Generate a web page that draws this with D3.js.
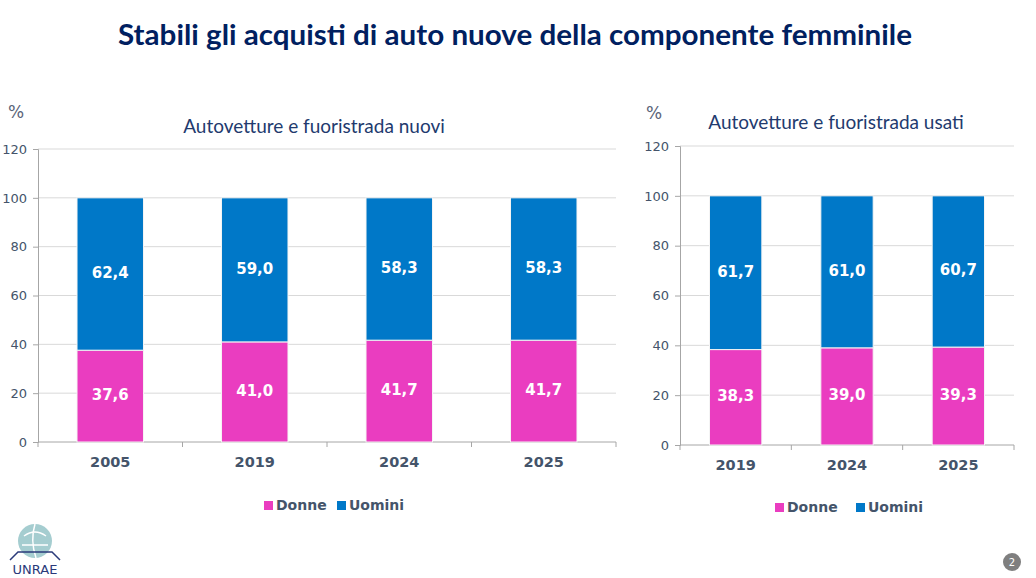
<!DOCTYPE html>
<html>
<head>
<meta charset="utf-8">
<script src="https://cdn.jsdelivr.net/npm/d3@7"></script>
<style>
  body { margin: 0; background: #fff; }
  svg { display: block; }
  .tick text { font-family: "DejaVu Sans", Verdana, sans-serif; }
</style>
</head>
<body>
<svg id="chart" width="1036" height="578"></svg>
<script>
// data
const seriesNames = ["Donne", "Uomini"];
const colors = ["#ea3dc0", "#0078c8"];

const nuoviYears = ["2005", "2019", "2024", "2025"];
const nuoviDonne = [37.6, 41.0, 41.7, 41.7];
const nuoviUomini = [62.4, 59.0, 58.3, 58.3];

const usatiYears = ["2019", "2024", "2025"];
const usatiDonne = [38.3, 39.0, 39.3];
const usatiUomini = [61.7, 61.0, 60.7];

const yTicks = [0, 20, 40, 60, 80, 100, 120];

const svg = d3.select("#chart");
const fmt = v => v.toFixed(1).replace(".", ",");

// main title
svg.append("text")
   .attr("x", 515).attr("y", 45)
   .attr("text-anchor", "middle")
   .attr("textLength", 794)
   .attr("lengthAdjust", "spacingAndGlyphs")
   .style("font-family", "Lato, sans-serif")
   .style("font-weight", "bold")
   .style("font-size", "29px")
   .style("fill", "#002060")
   .text("Stabili gli acquisti di auto nuove della componente femminile");

/**
 * draws one stacked bar chart
 */
function drawChart(cfg) {
    let g = svg.append("g");

    let x = d3.scaleBand()
              .domain(cfg.years)
              .range([cfg.x0, cfg.x1])
              .paddingInner(cfg.pad)
              .paddingOuter(cfg.pad / 2);
    let y = d3.scaleLinear()
              .domain([0, 120])
              .range([cfg.y0, cfg.y1]);

    // gridlines
    g.selectAll("line.grid")
     .data(yTicks.slice(1))
     .enter().append("line")
     .attr("x1", cfg.x0).attr("x2", cfg.x1)
     .attr("y1", d => y(d)).attr("y2", d => y(d))
     .style("stroke", "#d9d9d9").style("stroke-width", 1);

    // y axis
    let yAxis = g.append("g")
                 .attr("transform", "translate(" + cfg.x0 + ",0)")
                 .call(d3.axisLeft(y).tickValues(yTicks).tickSize(5).tickPadding(6));
    yAxis.select(".domain").style("stroke", "#a6a6a6");
    yAxis.selectAll(".tick line").style("stroke", "#a6a6a6");
    yAxis.selectAll(".tick text")
         .style("font-size", "13px").style("fill", "#44546a");

    // x axis
    let tickPos = cfg.years.map(d => x(d) - x.step() * x.paddingInner() / 2);
    tickPos.push(cfg.x1);
    g.append("line")
     .attr("x1", cfg.x0).attr("x2", cfg.x1)
     .attr("y1", cfg.y0).attr("y2", cfg.y0)
     .style("stroke", "#a6a6a6");
    g.selectAll("line.xt")
     .data(tickPos)
     .enter().append("line")
     .attr("x1", d => d).attr("x2", d => d)
     .attr("y1", cfg.y0).attr("y2", cfg.y0 + 5)
     .style("stroke", "#a6a6a6");
    g.selectAll("text.year")
     .data(cfg.years)
     .enter().append("text")
     .attr("x", d => x(d) + x.bandwidth() / 2)
     .attr("y", cfg.y0 + 25)
     .attr("text-anchor", "middle")
     .style("font-family", "DejaVu Sans, Verdana, sans-serif")
     .style("font-weight", "bold")
     .style("font-size", "14.5px")
     .style("fill", "#44546a")
     .text(d => d);

    // stacked bars
    let rows = cfg.years.map((yr, i) => ({year: yr, Donne: cfg.donne[i], Uomini: cfg.uomini[i]}));
    let stack = d3.stack().keys(seriesNames)(rows);

    stack.forEach((layer, li) => {
        g.selectAll("rect.s" + li)
         .data(layer)
         .enter().append("rect")
         .attr("x", d => x(d.data.year))
         .attr("width", x.bandwidth())
         .attr("y", d => y(d[1]))
         .attr("height", d => y(d[0]) - y(d[1]))
         .style("fill", colors[li])
         .style("stroke", "#f4f4f4")
         .style("stroke-width", 1);

        g.selectAll("text.v" + li)
         .data(layer)
         .enter().append("text")
         .attr("x", d => x(d.data.year) + x.bandwidth() / 2)
         .attr("y", d => (y(d[0]) + y(d[1])) / 2 + 4)
         .attr("text-anchor", "middle")
         .style("font-family", "DejaVu Sans, Verdana, sans-serif")
         .style("font-weight", "bold")
         .style("font-size", "15px")
         .style("fill", "#fff")
         .text(d => fmt(d[1] - d[0]));
    });

    // % label and subtitle
    g.append("text")
     .attr("x", cfg.pctX).attr("y", cfg.pctY)
     .style("font-family", "DejaVu Sans, sans-serif")
     .style("font-size", "17px")
     .style("fill", "#5a6478")
     .text("%");
    g.append("text")
     .attr("x", cfg.subX).attr("y", cfg.subY)
     .attr("text-anchor", "middle")
     .style("font-family", "Lato, sans-serif")
     .style("font-size", "19px")
     .style("fill", "#223a6e")
     .text(cfg.subtitle);

    // legend
    let lg = g.append("g").attr("transform", "translate(" + cfg.legX + "," + cfg.legY + ")");
    seriesNames.forEach((name, i) => {
        let ox = cfg.legOff[i];
        lg.append("rect")
          .attr("x", ox).attr("y", -9)
          .attr("width", 9).attr("height", 9)
          .style("fill", colors[i]);
        lg.append("text")
          .attr("x", ox + 12).attr("y", 0)
          .style("font-family", "DejaVu Sans, Verdana, sans-serif")
          .style("font-weight", "bold")
          .style("font-size", "14px")
          .style("fill", "#44546a")
          .text(name);
    });
}

drawChart({
    years: nuoviYears, donne: nuoviDonne, uomini: nuoviUomini,
    x0: 38, x1: 616, y0: 442, y1: 149, pad: 0.54,
    pctX: 8, pctY: 118, subX: 314, subY: 133,
    subtitle: "Autovetture e fuoristrada nuovi",
    legX: 264, legY: 510, legOff: [0, 73]
});

drawChart({
    years: usatiYears, donne: usatiDonne, uomini: usatiUomini,
    x0: 680, x1: 1014, y0: 445, y1: 146, pad: 0.53,
    pctX: 646, pctY: 119, subX: 836, subY: 129,
    subtitle: "Autovetture e fuoristrada usati",
    legX: 775, legY: 512, legOff: [0, 81]
});

// UNRAE logo (simple)
let logo = svg.append("g");
logo.append("circle").attr("cx", 35).attr("cy", 541).attr("r", 17)
    .style("fill", "#8fc0c4").style("opacity", 0.8);
logo.append("path").attr("d", "M24 536 Q35 528 46 536 M22 545 L48 545 M35 524 Q30 540 36 558")
    .style("fill", "none").style("stroke", "#fff").style("stroke-width", 1.5);
logo.append("path").attr("d", "M10 560 L18 552 L52 552 L60 560")
    .style("fill", "none").style("stroke", "#2a3a7a").style("stroke-width", 1.5);
logo.append("text").attr("x", 35).attr("y", 574).attr("text-anchor", "middle")
    .style("font-family", "DejaVu Sans, sans-serif").style("font-size", "13px")
    .style("fill", "#2a3a7a").text("UNRAE");

// page number
svg.append("circle").attr("cx", 1012).attr("cy", 562).attr("r", 9).style("fill", "#7f7f7f");
svg.append("text").attr("x", 1012).attr("y", 566).attr("text-anchor", "middle")
   .style("font-family", "DejaVu Sans, sans-serif").style("font-size", "10px")
   .style("fill", "#fff").text("2");
</script>
</body>
</html>
